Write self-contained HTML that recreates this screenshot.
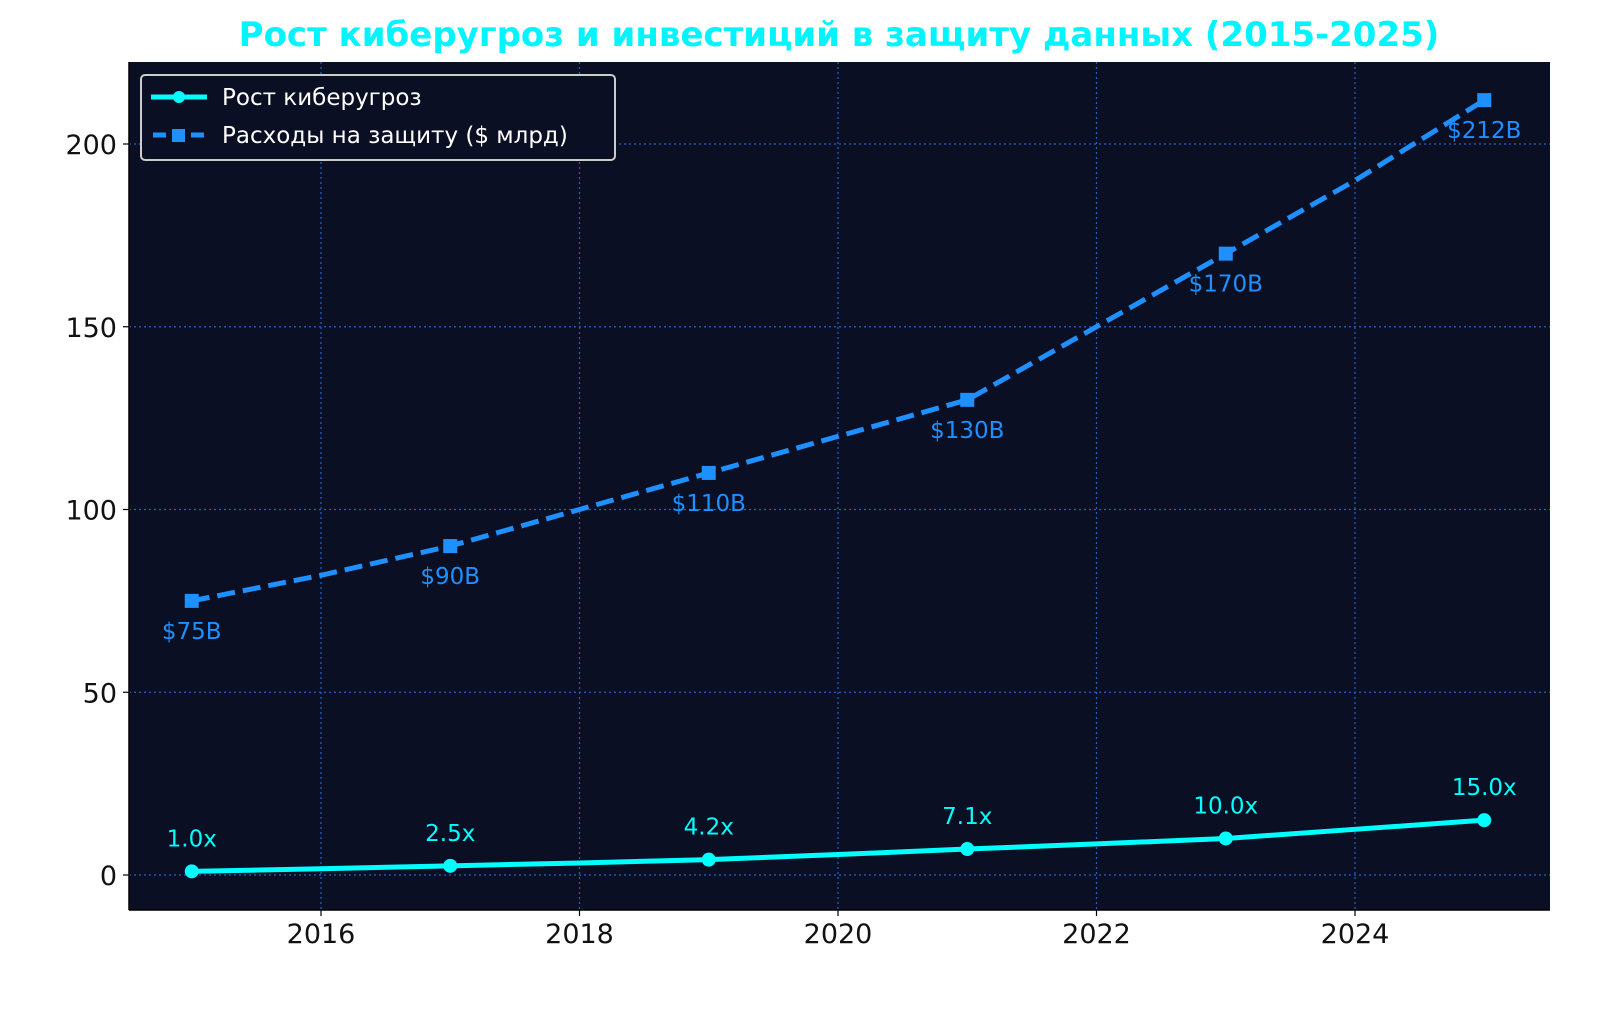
<!DOCTYPE html>
<html><head><meta charset="utf-8"><style>
body{margin:0;background:#fff;width:1600px;height:1029px;overflow:hidden}
svg text{font-family:"DejaVu Sans","Liberation Sans",sans-serif}
</style></head><body>
<svg id="chart" width="1600" height="1029">
<text x="839" y="46" text-anchor="middle" font-size="34" font-weight="bold" fill="#00f5ff">Рост киберугроз и инвестиций в защиту данных (2015-2025)</text>
<rect x="129" y="62" width="1421" height="848" fill="#0b0f24"/>
<g id="grid"></g><g id="series"></g><g id="ticks"></g>
<line x1="129" y1="62" x2="129" y2="910" stroke="#000" stroke-width="1.5"/>
<line x1="129" y1="910" x2="1550" y2="910" stroke="#000" stroke-width="1.5"/>
<g>
<rect x="141" y="75" width="474" height="85" rx="4" fill="#0b0f24" stroke="#ccc" stroke-width="2"/>
<line x1="151" y1="97" x2="207" y2="97" stroke="#00ffff" stroke-width="5"/>
<circle cx="179" cy="97" r="6" fill="#00ffff"/>
<text x="222" y="105" font-size="23" fill="#fff">Рост киберугроз</text>
<line x1="153" y1="135" x2="205" y2="135" stroke="#1e90ff" stroke-width="5" stroke-dasharray="13,6"/>
<rect x="172" y="129" width="13" height="13" fill="#1e90ff"/>
<text x="222" y="143" font-size="23" fill="#fff">Расходы на защиту ($ млрд)</text>
</g>
</svg>
<script>
const years=[2015,2016,2017,2018,2019,2020,2021,2022,2023,2024,2025];
const threats=[1.0,1.7,2.5,3.3,4.2,5.6,7.1,8.5,10.0,12.5,15.0];
const spending=[75,82,90,100,110,120,130,150,170,190,212];
const xTicks=[2016,2018,2020,2022,2024];
const yTicks=[0,50,100,150,200];
const NS="http://www.w3.org/2000/svg";
const X=v=>191.75+(v-2015)*129.25;
const Y=v=>875-v*3.655;
function mk(tag,attrs,parent){const e=document.createElementNS(NS,tag);for(const k in attrs)e.setAttribute(k,attrs[k]);parent.appendChild(e);return e;}
const grid=document.getElementById('grid'),ticks=document.getElementById('ticks'),ser=document.getElementById('series');
xTicks.forEach(t=>{
 const g=mk('line',{x1:X(t),x2:X(t),y1:62,y2:910,stroke:'#1e63c8','stroke-width':1.2,'stroke-dasharray':'2,3'},grid);
 
 
 mk('line',{x1:X(t),x2:X(t),y1:910,y2:916,stroke:'#000','stroke-width':1.2},ticks);
 const l=mk('text',{x:X(t),y:943,'text-anchor':'middle','font-size':27,fill:'#111'},ticks);l.textContent=t;
 
 
});
yTicks.forEach(t=>{
 const g=mk('line',{x1:129,x2:1550,y1:Y(t),y2:Y(t),stroke:'#1e63c8','stroke-width':1.2,'stroke-dasharray':'2,3'},grid);
 
 
 mk('line',{x1:123,x2:129,y1:Y(t),y2:Y(t),stroke:'#000','stroke-width':1.2},ticks);
 const l=mk('text',{x:117,y:Y(t)+10,'text-anchor':'end','font-size':27,fill:'#111'},ticks);l.textContent=t;
 
 
});
const sp=mk('polyline',{points:years.map((y,i)=>X(y)+','+Y(spending[i])).join(' '),fill:'none',stroke:'#1e90ff','stroke-width':5,'stroke-dasharray':'18,8'},ser);


const th=mk('polyline',{points:years.map((y,i)=>X(y)+','+Y(threats[i])).join(' '),fill:'none',stroke:'#00ffff','stroke-width':5},ser);


years.forEach((y,i)=>{
 if(i%2)return;
 const m=mk('rect',{x:X(y)-7,y:Y(spending[i])-7,width:14,height:14,fill:'#1e90ff'},ser);
 
 
 const t=mk('text',{x:X(y),y:Y(spending[i])+38,'text-anchor':'middle','font-size':23,fill:'#1e90ff'},ser);
 t.textContent='$'+spending[i]+'B';
 
 
 const c=mk('circle',{cx:X(y),cy:Y(threats[i]),r:7,fill:'#00ffff'},ser);
 
 
 const u=mk('text',{x:X(y),y:Y(threats[i])-25,'text-anchor':'middle','font-size':23,fill:'#00ffff'},ser);
 u.textContent=threats[i].toFixed(1)+'x';
 
 
});
</script>
</body></html>
